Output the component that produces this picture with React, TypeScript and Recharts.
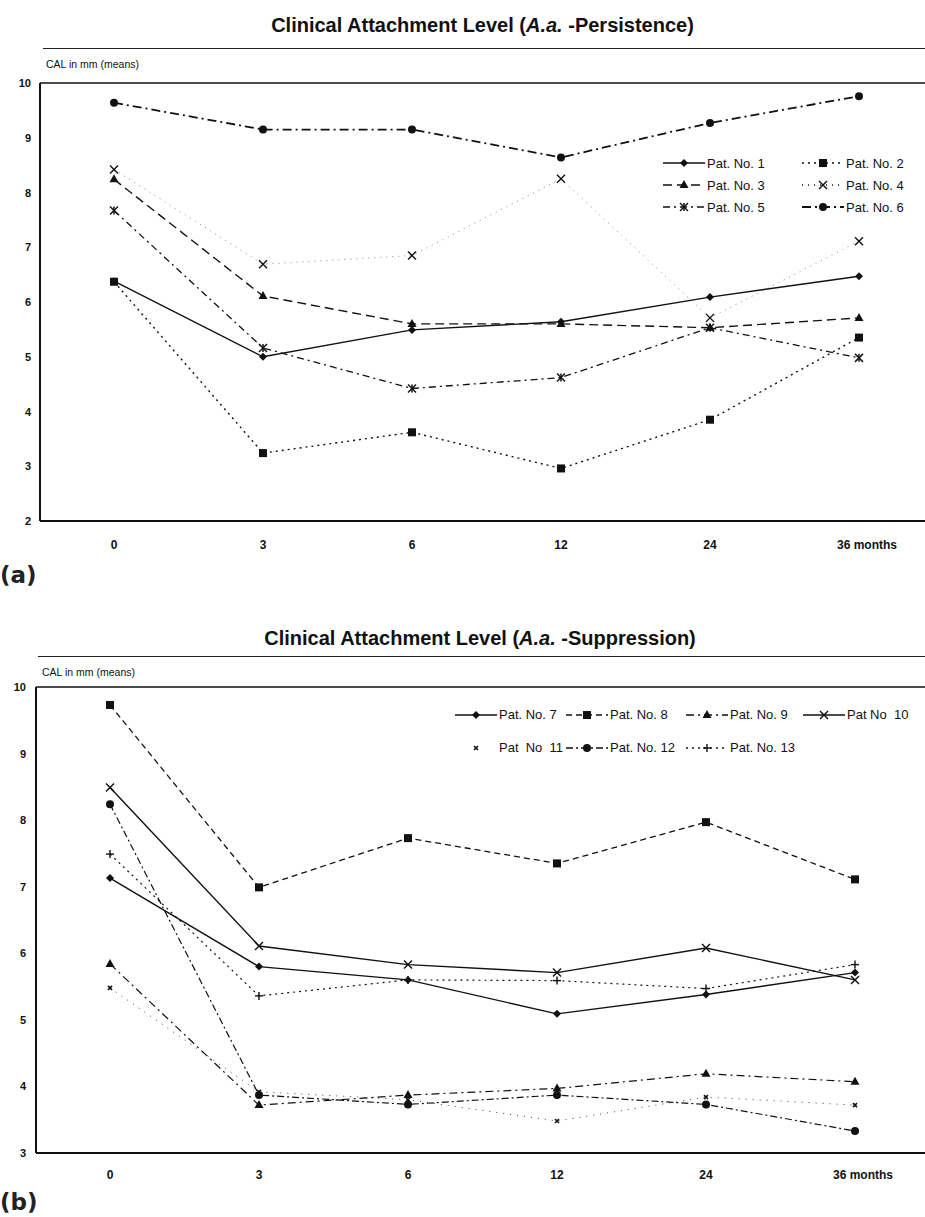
import { LineChart, Line, XAxis, YAxis, Legend, ReferenceLine } from "recharts";

const months = ["0", "3", "6", "12", "24", "36"];
const monthLabels = ["0", "3", "6", "12", "24", "36 months"];
const ticksA = [2, 3, 4, 5, 6, 7, 8, 9, 10];
const ticksB = [3, 4, 5, 6, 7, 8, 9, 10];

// (a) A.a.-Persistence
const pat1 = [6.38, 5.0, 5.49, 5.64, 6.09, 6.47];
const pat2 = [6.37, 3.24, 3.62, 2.96, 3.85, 5.35];
const pat3 = [8.24, 6.11, 5.6, 5.6, 5.53, 5.71];
const pat4 = [8.42, 6.69, 6.85, 8.25, 5.71, 7.11];
const pat5 = [7.67, 5.16, 4.42, 4.62, 5.53, 4.98];
const pat6 = [9.64, 9.15, 9.15, 8.64, 9.27, 9.76];

// (b) A.a.-Suppression
const pat7 = [7.13, 5.8, 5.6, 5.09, 5.38, 5.71];
const pat8 = [9.73, 6.99, 7.73, 7.35, 7.97, 7.11];
const pat9 = [5.84, 3.72, 3.87, 3.97, 4.19, 4.07];
const pat10 = [8.49, 6.11, 5.83, 5.71, 6.08, 5.6];
const pat11 = [5.48, 3.92, 3.8, 3.48, 3.84, 3.72];
const pat12 = [8.24, 3.87, 3.73, 3.87, 3.73, 3.33];
const pat13 = [7.49, 5.36, 5.6, 5.59, 5.47, 5.83];

const dataA = months.map((m, i) => ({
  month: m,
  p1: pat1[i],
  p2: pat2[i],
  p3: pat3[i],
  p4: pat4[i],
  p5: pat5[i],
  p6: pat6[i],
}));

const dataB = months.map((m, i) => ({
  month: m,
  p7: pat7[i],
  p8: pat8[i],
  p9: pat9[i],
  p10: pat10[i],
  p11: pat11[i],
  p12: pat12[i],
  p13: pat13[i],
}));

type Series = {
  key: string;
  name: string;
  dash?: string;
  width: number;
  shape: string;
  opacity?: number;
  legendLine?: boolean;
};

const seriesA: Series[] = [
  { key: "p1", name: "Pat. No. 1", width: 1.4, shape: "diamond" },
  { key: "p2", name: "Pat. No. 2", dash: "2 4", width: 1.4, shape: "square" },
  { key: "p3", name: "Pat. No. 3", dash: "9 5", width: 1.4, shape: "triangle" },
  { key: "p4", name: "Pat. No. 4", dash: "1 5", width: 1, shape: "x", opacity: 0.5 },
  { key: "p5", name: "Pat. No. 5", dash: "7 4 2 4", width: 1.3, shape: "asterisk" },
  { key: "p6", name: "Pat. No. 6", dash: "9 4 2 4", width: 1.8, shape: "circle" },
];

const seriesB: Series[] = [
  { key: "p7", name: "Pat. No. 7", width: 1.4, shape: "diamond" },
  { key: "p8", name: "Pat. No. 8", dash: "6 4", width: 1.3, shape: "square" },
  { key: "p9", name: "Pat. No. 9", dash: "8 4 2 4", width: 1.2, shape: "triangle" },
  { key: "p10", name: "Pat No  10", width: 1.4, shape: "x" },
  { key: "p11", name: "Pat  No  11", dash: "1 6", width: 1, shape: "smallx", legendLine: false, opacity: 0.8 },
  { key: "p12", name: "Pat. No. 12", dash: "7 3 2 3", width: 1.2, shape: "circle" },
  { key: "p13", name: "Pat. No. 13", dash: "2 4", width: 1.2, shape: "plus" },
];

const Marker = ({ shape, cx, cy }: { shape: string; cx: number; cy: number }) => {
  switch (shape) {
    case "diamond":
      return <polygon points={`${cx},${cy - 4} ${cx + 4},${cy} ${cx},${cy + 4} ${cx - 4},${cy}`} fill="#111" />;
    case "square":
      return <rect x={cx - 4} y={cy - 4} width={8} height={8} fill="#111" />;
    case "triangle":
      return <polygon points={`${cx},${cy - 5} ${cx + 4.5},${cy + 3} ${cx - 4.5},${cy + 3}`} fill="#111" />;
    case "circle":
      return <circle cx={cx} cy={cy} r={4} fill="#111" />;
    case "x":
      return (
        <g stroke="#111" strokeWidth={1.4}>
          <line x1={cx - 4} y1={cy - 4} x2={cx + 4} y2={cy + 4} />
          <line x1={cx - 4} y1={cy + 4} x2={cx + 4} y2={cy - 4} />
        </g>
      );
    case "asterisk":
      return (
        <g stroke="#111" strokeWidth={1.5}>
          <line x1={cx - 4} y1={cy - 4} x2={cx + 4} y2={cy + 4} />
          <line x1={cx - 4} y1={cy + 4} x2={cx + 4} y2={cy - 4} />
          <line x1={cx} y1={cy - 4} x2={cx} y2={cy + 4} />
        </g>
      );
    case "plus":
      return (
        <g stroke="#111" strokeWidth={1.4}>
          <line x1={cx - 4} y1={cy} x2={cx + 4} y2={cy} />
          <line x1={cx} y1={cy - 4} x2={cx} y2={cy + 4} />
        </g>
      );
    case "smallx":
      return (
        <g stroke="#111" strokeWidth={1.6}>
          <line x1={cx - 2} y1={cy - 2} x2={cx + 2} y2={cy + 2} />
          <line x1={cx - 2} y1={cy + 2} x2={cx + 2} y2={cy - 2} />
        </g>
      );
    default:
      return null;
  }
};

const makeDot = (shape: string) => (props: any) => {
  const { cx, cy, index } = props;
  if (cx == null || cy == null) return <g key={index} />;
  return (
    <g key={index}>
      <Marker shape={shape} cx={cx} cy={cy} />
    </g>
  );
};

const YTick = (props: any) => {
  const { x, y, payload } = props;
  return (
    <text x={x} y={y} textAnchor="end" dominantBaseline="central" fontSize={11} fontWeight="bold" fill="#111" fontFamily="Liberation Sans, Arial, sans-serif">
      {payload.value}
    </text>
  );
};

const makeXTick = (offset: number) => (props: any) => {
  const { x, y, payload, index } = props;
  const label = monthLabels[index] ?? payload.value;
  const last = index === monthLabels.length - 1;
  return (
    <text
      x={last ? x - 22 : x}
      y={y + offset}
      textAnchor={last ? "start" : "middle"}
      dominantBaseline="central"
      fontSize={12}
      fontWeight="bold"
      fill="#111"
      fontFamily="Liberation Sans, Arial, sans-serif"
    >
      {label}
    </text>
  );
};

const LegendSymbol = ({ s, w }: { s: Series; w: number }) => (
  <svg width={w} height={14} style={{ display: "block", flex: "none" }}>
    {s.legendLine !== false && (
      <line x1={0} y1={7} x2={w} y2={7} stroke="#111" strokeWidth={s.width + 0.3} strokeDasharray={s.dash} />
    )}
    <Marker shape={s.shape} cx={w / 2} cy={7} />
  </svg>
);

const makeLegend = (series: Series[], cols: number[], rowH: number) => () => (
  <div
    style={{
      display: "grid",
      gridTemplateColumns: cols.map((c) => `${c}px`).join(" "),
      gridAutoRows: `${rowH}px`,
      fontFamily: "Liberation Sans, Arial, sans-serif",
      fontSize: 13,
      color: "#111",
    }}
  >
    {series.map((s) => (
      <div key={s.key} style={{ display: "flex", alignItems: "center", whiteSpace: "pre" }}>
        <LegendSymbol s={s} w={42} />
        <span style={{ marginLeft: 2 }}>{s.name}</span>
      </div>
    ))}
  </div>
);

const titleStyle: React.CSSProperties = {
  position: "absolute",
  left: 40,
  width: 885,
  textAlign: "center",
  fontFamily: "Liberation Sans, Arial, sans-serif",
  fontWeight: "bold",
  fontSize: 20,
  color: "#111",
  lineHeight: "22px",
};

const unitStyle: React.CSSProperties = {
  position: "absolute",
  fontFamily: "Liberation Sans, Arial, sans-serif",
  fontSize: 10.5,
  color: "#111",
  lineHeight: "12px",
};

const panelStyle: React.CSSProperties = {
  position: "absolute",
  left: 0,
  fontFamily: "DejaVu Sans, sans-serif",
  fontWeight: "bold",
  fontSize: 23,
  color: "#222",
  lineHeight: "26px",
};

export default function App() {
  return (
    <div style={{ position: "absolute", left: 0, top: 0, width: 925, height: 1217, overflow: "hidden", background: "#fff" }}>
      {/* panel (a) */}
      <div style={{ ...titleStyle, top: 14 }}>
        Clinical Attachment Level (<i>A.a.</i> -Persistence)
      </div>
      <div style={{ position: "absolute", top: 48, left: 43, width: 882, borderTop: "1px solid #222" }} />
      <div style={{ ...unitStyle, top: 58, left: 46 }}>CAL in mm (means)</div>
      <div style={{ position: "absolute", top: 0, left: 0 }}>
        <LineChart width={933} height={560} data={dataA} margin={{ top: 83, right: 0, left: 0, bottom: 0 }}>
          <XAxis
            dataKey="month"
            height={39}
            padding={{ left: 74, right: 74 }}
            tickSize={0}
            tickMargin={0}
            axisLine={{ stroke: "#111", strokeWidth: 2 }}
            tickLine={false}
            tick={makeXTick(24)}
            interval={0}
          />
          <YAxis
            width={40}
            domain={[2, 10]}
            ticks={ticksA}
            type="number"
            tickSize={0}
            tickMargin={9}
            axisLine={{ stroke: "#111", strokeWidth: 2 }}
            tickLine={false}
            tick={<YTick />}
          />
          <ReferenceLine y={10} stroke="#111" strokeWidth={1.5} />
          {seriesA.map((s) => (
            <Line
              key={s.key}
              dataKey={s.key}
              name={s.name}
              type="linear"
              stroke="#111"
              strokeOpacity={s.opacity ?? 1}
              strokeWidth={s.width}
              strokeDasharray={s.dash}
              dot={makeDot(s.shape)}
              activeDot={false}
              isAnimationActive={false}
            />
          ))}
          <Legend
            layout="horizontal"
            verticalAlign="middle"
            align="center"
            content={makeLegend(seriesA, [139, 139], 22)}
            wrapperStyle={{ position: "absolute", top: 152, left: 663, width: 280, bottom: "auto" }}
          />
        </LineChart>
      </div>
      <div style={{ ...panelStyle, top: 562 }}>(a)</div>

      {/* panel (b) */}
      <div style={{ ...titleStyle, top: 627, left: 35, width: 890 }}>
        Clinical Attachment Level (<i>A.a.</i> -Suppression)
      </div>
      <div style={{ position: "absolute", top: 656, left: 38, width: 887, borderTop: "1px solid #222" }} />
      <div style={{ ...unitStyle, top: 666, left: 42 }}>CAL in mm (means)</div>
      <div style={{ position: "absolute", top: 600, left: 0 }}>
        <LineChart width={930} height={600} data={dataB} margin={{ top: 87, right: 0, left: 0, bottom: 0 }}>
          <XAxis
            dataKey="month"
            height={47}
            padding={{ left: 74, right: 75 }}
            tickSize={0}
            tickMargin={0}
            axisLine={{ stroke: "#111", strokeWidth: 2 }}
            tickLine={false}
            tick={makeXTick(22)}
            interval={0}
          />
          <YAxis
            width={36}
            domain={[3, 10]}
            ticks={ticksB}
            type="number"
            tickSize={0}
            tickMargin={10}
            axisLine={{ stroke: "#111", strokeWidth: 2 }}
            tickLine={false}
            tick={<YTick />}
          />
          <ReferenceLine y={10} stroke="#111" strokeWidth={1.5} />
          {seriesB.map((s) => (
            <Line
              key={s.key}
              dataKey={s.key}
              name={s.name}
              type="linear"
              stroke="#111"
              strokeOpacity={s.opacity ?? 1}
              strokeWidth={s.width}
              strokeDasharray={s.dash}
              dot={makeDot(s.shape)}
              activeDot={false}
              isAnimationActive={false}
            />
          ))}
          <Legend
            layout="horizontal"
            verticalAlign="middle"
            align="center"
            content={makeLegend(seriesB, [111, 120, 117, 125], 33)}
            wrapperStyle={{ position: "absolute", top: 98, left: 455, width: 475, bottom: "auto" }}
          />
        </LineChart>
      </div>
      <div style={{ ...panelStyle, top: 1189 }}>(b)</div>
    </div>
  );
}
